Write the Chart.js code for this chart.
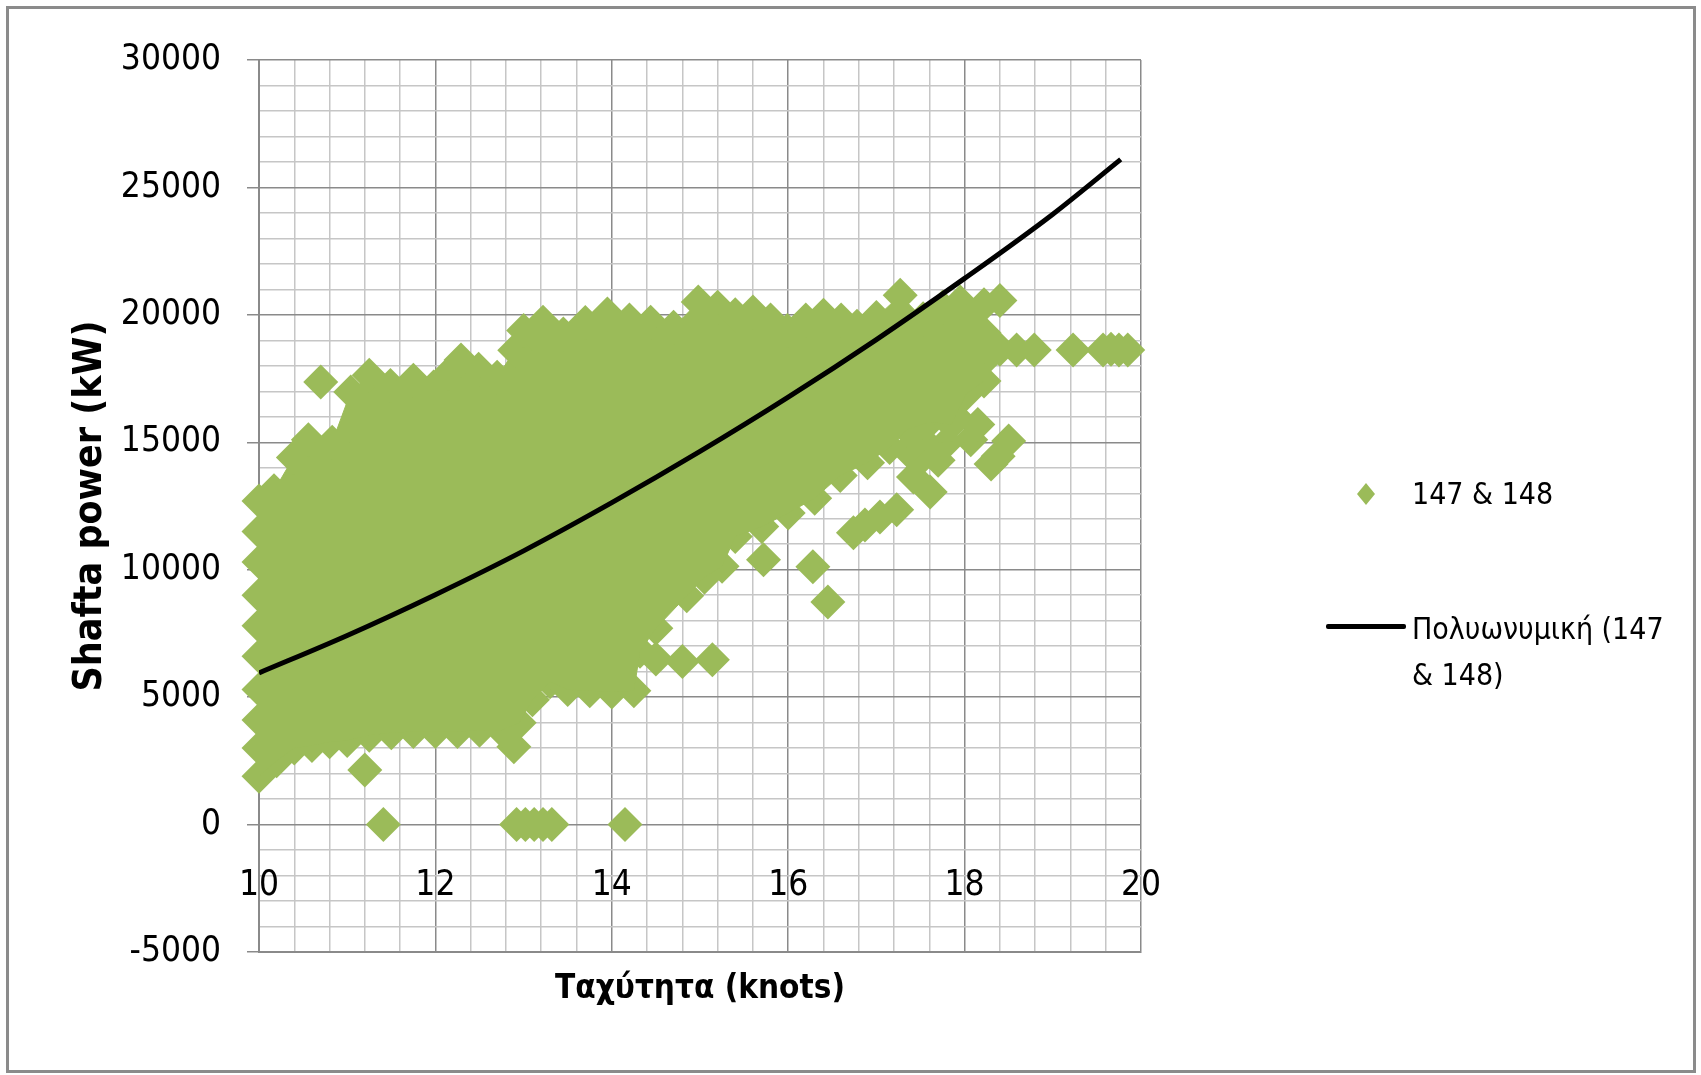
<!DOCTYPE html>
<html>
<head>
<meta charset="utf-8">
<script src="https://cdn.jsdelivr.net/npm/chart.js@4.4.0/dist/chart.umd.min.js"></script>
<style>
  body { margin: 0; background: #fff; }
  #frame { position: absolute; left: 6px; top: 6px; width: 1690px; height: 1067px; box-sizing: border-box; border: 3px solid #8b8b8b; }
  #chart { position: absolute; left: 0; top: 0; }
  .lg { position: absolute; font-family: 'Liberation Sans Narrow', 'DejaVu Sans Condensed', 'Arial Narrow', sans-serif; font-size: 30px; line-height: 46px; color: #000; }
</style>
</head>
<body>
<div id="frame"></div>
<canvas id="chart" width="1701" height="1075"></canvas>
<div id="legend"></div>
<script>
// --- data ---

// trendline (2nd order polynomial) through the cloud
const trendX = [10, 11, 12, 13, 14, 15, 16, 17, 18, 19, 19.77];
const trendY = [5950, 7420, 9020, 10740, 12630, 14640, 16770, 19030, 21430, 23950, 26100];

// upper edge of the dense cloud of points (diamond centres)
const cloudTopX = [10.0, 10.17, 10.39, 10.56, 10.83, 11.04, 11.25, 11.49, 11.75, 11.98, 12.15, 12.29, 12.49, 12.70, 12.90, 13.00, 13.22, 13.45, 13.70, 13.95, 14.20, 14.44, 14.70, 14.98, 15.20, 15.40, 15.60, 15.80, 15.99, 16.20, 16.40, 16.60, 16.78, 17.00, 17.27, 17.53, 17.75, 17.95, 18.22];
const cloudTopY = [12700, 13100, 14400, 15100, 15000, 16970, 17630, 17230, 17430, 17170, 17700, 18230, 17870, 17550, 18610, 19390, 19710, 19250, 19700, 20030, 19800, 19710, 19510, 20500, 20300, 20000, 20110, 19800, 19390, 19800, 19980, 19800, 19550, 19900, 20770, 19850, 20300, 20500, 20400];

// lower edge of the dense cloud
const cloudBottomX = [10.0, 10.2, 10.4, 10.6, 10.8, 11.0, 11.25, 11.5, 11.75, 12.0, 12.25, 12.5, 12.75, 12.95, 13.1, 13.3, 13.5, 13.75, 14.0, 14.25, 14.32, 14.5, 14.85, 15.05, 15.25, 15.4, 15.7, 16.0, 16.3, 16.59, 16.9, 17.15, 17.35, 17.6, 17.85, 18.02, 18.22];
const cloudBottomY = [1900, 2500, 3000, 3100, 3250, 3300, 3500, 3600, 3650, 3650, 3650, 3700, 3700, 4000, 4900, 5600, 5300, 5250, 5200, 5250, 6800, 7700, 8980, 9700, 10140, 11300, 11700, 12230, 12800, 13700, 14200, 14800, 15500, 15800, 15700, 16900, 17400];

// single points outside / on the edges of the cloud
const pointsX = [10.0, 10.0, 10.0, 10.0, 10.0, 10.0, 10.0, 10.0, 10.70,
  18.40, 18.22, 18.22, 18.40, 18.59, 18.79, 19.23, 19.57, 19.66, 19.75, 19.85,
  18.50, 18.38, 18.30, 18.07, 18.15, 17.90, 17.80, 17.55, 17.70, 17.53, 17.35, 17.42, 17.61, 17.23, 17.04, 16.87, 16.74,
  16.28, 16.45, 15.72, 14.50, 14.80, 15.14,
  11.20, 12.89, 11.41, 12.92, 13.02, 13.12, 13.22, 13.32, 14.15];
const pointsY = [11500, 10300, 9000, 7800, 6600, 5300, 4100, 3000, 17370,
  20560, 19300, 18200, 18650, 18620, 18620, 18620, 18620, 18650, 18620, 18620,
  15050, 14450, 14150, 15100, 15700, 16000, 15000, 15000, 14300, 14430, 14690, 13640, 13050, 12350, 12070, 11750, 11450,
  10120, 8730, 10390, 6500, 6400, 6470,
  2140, 3050, 0, 0, 0, 0, 0, 0, 0];

// axis ticks
const xTickLabels = [10, 12, 14, 16, 18, 20];
const yTickLabels = [-5000, 0, 5000, 10000, 15000, 20000, 25000, 30000];

const seriesLabel = '147 & 148';
const trendLabel = 'Πολυωνυμική (147 & 148)';

// --- chart ---
const FONT = "'Liberation Sans Narrow', 'DejaVu Sans Condensed', 'Arial Narrow', sans-serif";
const GREEN = '#9bbb59';
const MAJOR = '#8a8a8a';
const MINOR = '#c6c6c6';

Chart.defaults.font.family = FONT;
Chart.defaults.color = '#000';

const toPoints = (xs, ys) => xs.map((x, i) => ({ x: x, y: ys[i] }));
const isMajor = (v, step) => Math.abs(v / step - Math.round(v / step)) < 1e-6;

const cloudStyle = {
  type: 'line',
  label: seriesLabel,
  borderColor: GREEN,
  borderWidth: 1,
  backgroundColor: GREEN,
  pointStyle: 'rectRot',
  pointRadius: 17.5,
  pointBackgroundColor: GREEN,
  pointBorderWidth: 0,
  tension: 0,
  clip: false,
  order: 1
};

const chart = new Chart(document.getElementById('chart'), {
  type: 'scatter',
  data: {
    datasets: [
      {
        type: 'line',
        label: trendLabel,
        data: toPoints(trendX, trendY),
        borderColor: '#000',
        borderWidth: 5,
        pointRadius: 0,
        cubicInterpolationMode: 'monotone',
        fill: false,
        order: 0
      },
      Object.assign({}, cloudStyle, { data: toPoints(cloudTopX, cloudTopY), fill: '+1' }),
      Object.assign({}, cloudStyle, { data: toPoints(cloudBottomX, cloudBottomY), fill: false }),
      {
        label: seriesLabel,
        data: toPoints(pointsX, pointsY),
        pointStyle: 'rectRot',
        pointRadius: 17.5,
        backgroundColor: GREEN,
        borderWidth: 0,
        clip: false,
        order: 1
      }
    ]
  },
  options: {
    responsive: false,
    animation: false,
    events: [],
    layout: { padding: { left: 67, right: 560, top: 60, bottom: 66 } },
    plugins: { legend: { display: false }, tooltip: { enabled: false } },
    scales: {
      x: {
        type: 'linear',
        position: 'bottom',
        min: xTickLabels[0],
        max: xTickLabels[xTickLabels.length - 1],
        ticks: { display: false, stepSize: 0.4, autoSkip: false },
        grid: {
          color: c => isMajor(c.tick.value, 2) ? MAJOR : MINOR,
          lineWidth: 1.5,
          drawTicks: false
        },
        border: { color: MAJOR, width: 2 },
        title: { display: true, text: 'Ταχύτητα (knots)', font: { size: 33, weight: 'bold' }, padding: 0, color: '#000' },
        afterFit: s => { s.height = 57; }
      },
      // labels of the horizontal axis sit under the zero line
      x2: {
        type: 'linear',
        axis: 'x',
        position: { y: 0 },
        min: xTickLabels[0],
        max: xTickLabels[xTickLabels.length - 1],
        afterBuildTicks: s => { s.ticks = xTickLabels.map(v => ({ value: v })); },
        ticks: { padding: 40, autoSkip: false, maxRotation: 0, font: { size: 35 }, color: '#000' },
        grid: { display: false, drawTicks: false },
        border: { display: false },
        afterFit: s => { s.height = 0; }
      },
      y: {
        type: 'linear',
        position: 'left',
        min: yTickLabels[0],
        max: yTickLabels[yTickLabels.length - 1],
        ticks: {
          stepSize: 1000,
          autoSkip: false,
          padding: 26,
          font: { size: 35 },
          color: '#000',
          callback: v => yTickLabels.includes(v) ? String(v) : ''
        },
        grid: {
          color: c => isMajor(c.tick.value, 5000) ? MAJOR : MINOR,
          tickColor: c => isMajor(c.tick.value, 5000) ? MAJOR : 'rgba(0,0,0,0)',
          tickLength: 12,
          lineWidth: 1.5
        },
        border: { color: MAJOR, width: 2 },
        title: { display: true, text: 'Shafta power (kW)', font: { size: 39, weight: 'bold' }, padding: 0, color: '#000' },
        afterFit: s => { s.width = 192; }
      }
    }
  }
});

// --- legend (html, to the right of the plot) ---
const legend = document.getElementById('legend');
function addEl(css, text) {
  const el = document.createElement('div');
  el.style.cssText = 'position:absolute;' + css;
  if (text !== undefined) { el.className = 'lg'; el.textContent = text; }
  legend.appendChild(el);
  return el;
}
addEl('left:1357px;top:483px;width:18px;height:22px;background:' + GREEN + ';clip-path:polygon(50% 0,100% 50%,50% 100%,0 50%);');
addEl('left:1412px;top:471px;white-space:nowrap;', chart.data.datasets[3].label);
addEl('left:1326px;top:624px;width:80px;height:5px;background:#000;border-radius:2px;');
addEl('left:1412px;top:606px;width:262px;', chart.data.datasets[0].label);
</script>
</body>
</html>
